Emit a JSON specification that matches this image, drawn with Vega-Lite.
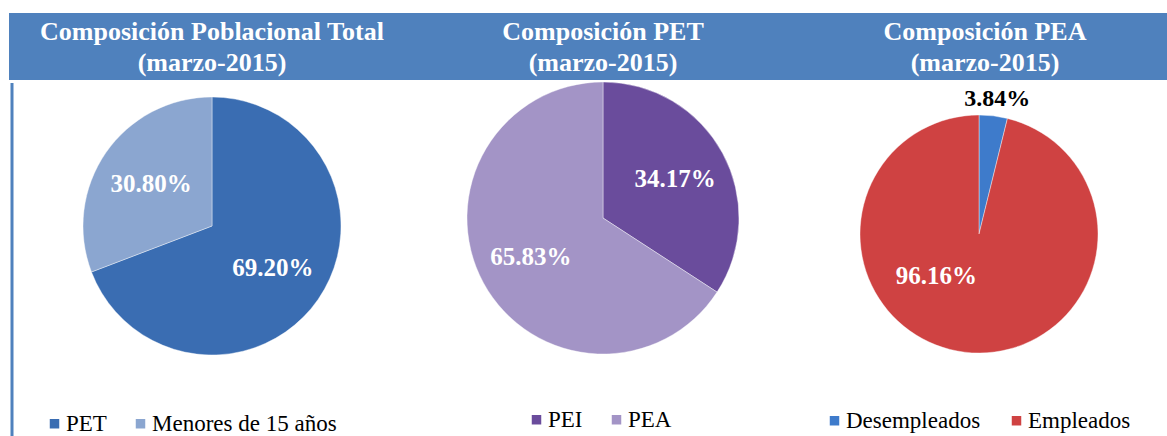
{
  "$schema": "https://vega.github.io/schema/vega-lite/v6.json",
  "padding": {"left": 9, "top": 13, "right": 0, "bottom": 0},
  "background": "white",
  "spacing": 0,
  "config": {"view": {"stroke": null}, "concat": {"spacing": 0}, "font": "Liberation Serif"},
  "datasets": {
    "total": [
      {"cat": "PET", "value": 69.2, "ord": 1, "label": "69.20%"},
      {"cat": "Menores de 15 años", "value": 30.8, "ord": 2, "label": "30.80%"}
    ],
    "pet": [
      {"cat": "PEI", "value": 34.17, "ord": 1, "label": "34.17%"},
      {"cat": "PEA", "value": 65.83, "ord": 2, "label": "65.83%"}
    ],
    "pea": [
      {"cat": "Desempleados", "value": 3.84, "ord": 1, "label": "3.84%"},
      {"cat": "Empleados", "value": 96.16, "ord": 2, "label": "96.16%"}
    ]
  },
  "vconcat": [
    {
      "spacing": 0,
      "hconcat": [
        {
          "width": 406, "height": 67,
          "view": {"fill": "#4F81BD", "stroke": null},
          "data": {"values": [{"t": "Composición Poblacional Total|(marzo-2015)"}]},
          "mark": {"type": "text", "lineBreak": "|", "font": "Liberation Serif", "fontWeight": "bold", "fontSize": 26, "color": "white", "lineHeight": 31, "baseline": "middle", "align": "center", "dy": -15},
          "encoding": {"text": {"field": "t", "type": "nominal"}}
        },
        {
          "width": 376, "height": 67,
          "view": {"fill": "#4F81BD", "stroke": null},
          "data": {"values": [{"t": "Composición PET|(marzo-2015)"}]},
          "mark": {"type": "text", "lineBreak": "|", "font": "Liberation Serif", "fontWeight": "bold", "fontSize": 26, "color": "white", "lineHeight": 31, "baseline": "middle", "align": "center", "dy": -15},
          "encoding": {"text": {"field": "t", "type": "nominal"}}
        },
        {
          "width": 376, "height": 67,
          "view": {"fill": "#4F81BD", "stroke": null},
          "data": {"values": [{"t": "Composición PEA|(marzo-2015)"}]},
          "mark": {"type": "text", "lineBreak": "|", "font": "Liberation Serif", "fontWeight": "bold", "fontSize": 26, "color": "white", "lineHeight": 31, "baseline": "middle", "align": "center", "dx": 6, "dy": -15},
          "encoding": {"text": {"field": "t", "type": "nominal"}}
        }
      ]
    },
    {
      "spacing": 0,
      "resolve": {"scale": {"color": "independent", "theta": "independent"}, "legend": {"color": "independent"}},
      "hconcat": [
        {
          "width": 406, "height": 286,
          "data": {"name": "total"},
          "layer": [
            {
              "mark": {"type": "arc", "outerRadius": 129, "stroke": "#ffffff", "strokeWidth": 1, "strokeOpacity": 0.4},
              "encoding": {
                "theta": {"field": "value", "type": "quantitative", "stack": true},
                "order": {"field": "ord", "type": "quantitative"},
                "color": {
                  "field": "cat", "type": "nominal",
                  "scale": {"domain": ["PET", "Menores de 15 años"], "range": ["#3A6DB2", "#8BA6D0"]},
                  "legend": {"orient": "none", "legendX": 34, "legendY": 329, "direction": "horizontal", "title": null, "symbolType": "square", "symbolSize": 90, "symbolStrokeWidth": 0, "labelFont": "Liberation Serif", "labelFontSize": 23, "labelColor": "black", "columnPadding": 22, "labelOffset": 0, "labelLimit": 400}
                }
              }
            },
            {
              "mark": {"type": "text", "radius": 74, "font": "Liberation Serif", "fontSize": 25, "fontWeight": "bold", "fill": "white"},
              "encoding": {
                "theta": {"field": "value", "type": "quantitative", "stack": true},
                "order": {"field": "ord", "type": "quantitative"},
                "text": {"field": "label", "type": "nominal"}
              }
            },
            {
              "data": {"values": [{"k": 1}]},
              "mark": {"type": "rule", "stroke": "#4F81BD", "strokeWidth": 3},
              "encoding": {"x": {"value": 3}, "y": {"value": 0}, "y2": {"value": 356}}
            }
          ]
        },
        {
          "width": 376, "height": 270,
          "data": {"name": "pet"},
          "layer": [
            {
              "mark": {"type": "arc", "outerRadius": 136, "stroke": "#ffffff", "strokeWidth": 1, "strokeOpacity": 0.4},
              "encoding": {
                "theta": {"field": "value", "type": "quantitative", "stack": true},
                "order": {"field": "ord", "type": "quantitative"},
                "color": {
                  "field": "cat", "type": "nominal",
                  "scale": {"domain": ["PEI", "PEA"], "range": ["#6A4C9C", "#A394C6"]},
                  "legend": {"orient": "none", "legendX": 110, "legendY": 325, "direction": "horizontal", "title": null, "symbolType": "square", "symbolSize": 90, "symbolStrokeWidth": 0, "labelFont": "Liberation Serif", "labelFontSize": 23, "labelColor": "black", "columnPadding": 22, "labelOffset": 0, "labelLimit": 400}
                }
              }
            },
            {
              "mark": {"type": "text", "radius": 82, "font": "Liberation Serif", "fontSize": 25, "fontWeight": "bold", "fill": "white"},
              "encoding": {
                "theta": {"field": "value", "type": "quantitative", "stack": true},
                "order": {"field": "ord", "type": "quantitative"},
                "text": {"field": "label", "type": "nominal"}
              }
            }
          ]
        },
        {
          "width": 376, "height": 302,
          "data": {"name": "pea"},
          "layer": [
            {
              "mark": {"type": "arc", "outerRadius": 119, "stroke": "#ffffff", "strokeWidth": 1, "strokeOpacity": 0.4},
              "encoding": {
                "theta": {"field": "value", "type": "quantitative", "stack": true, "scale": {"domain": [0, 100]}},
                "order": {"field": "ord", "type": "quantitative"},
                "color": {
                  "field": "cat", "type": "nominal",
                  "scale": {"domain": ["Desempleados", "Empleados"], "range": ["#3E7BCB", "#CF4242"]},
                  "legend": {"orient": "none", "legendX": 32, "legendY": 326, "direction": "horizontal", "title": null, "symbolType": "square", "symbolSize": 90, "symbolStrokeWidth": 0, "labelFont": "Liberation Serif", "labelFontSize": 23, "labelColor": "black", "columnPadding": 24, "labelOffset": 0, "labelLimit": 400}
                }
              }
            },
            {
              "transform": [{"filter": "datum.cat === 'Desempleados'"}],
              "mark": {"type": "text", "radius": 136, "font": "Liberation Serif", "fontSize": 24, "fontWeight": "bold", "fill": "black", "dx": 2},
              "encoding": {
                "theta": {"field": "value", "type": "quantitative", "stack": true},
                "text": {"field": "label", "type": "nominal"}
              }
            },
            {
              "transform": [{"filter": "datum.cat === 'Empleados'"}],
              "mark": {"type": "text", "radius": 61, "dx": -50, "dy": -19, "font": "Liberation Serif", "fontSize": 25, "fontWeight": "bold", "fill": "white"},
              "encoding": {
                "theta": {"field": "value", "type": "quantitative", "stack": true},
                "text": {"field": "label", "type": "nominal"}
              }
            }
          ]
        }
      ]
    }
  ]
}
